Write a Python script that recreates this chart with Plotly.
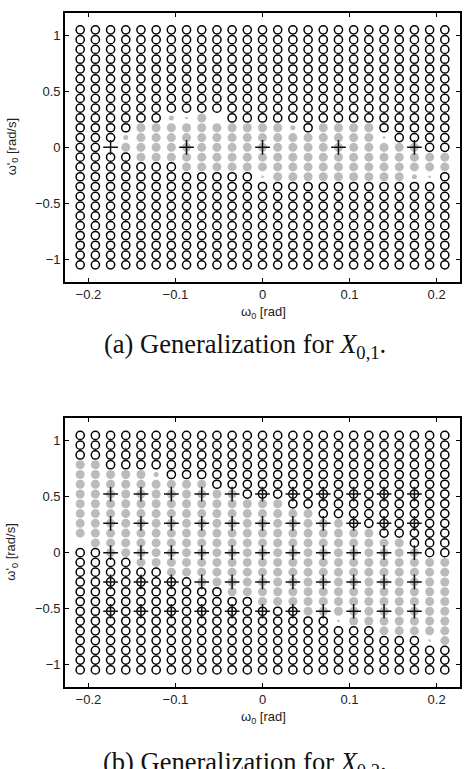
import numpy as np
import plotly.graph_objects as go

DEG = np.pi / 180.0

# ---------------- data ----------------
# grid of initial conditions: angle in degrees (-12..12), rate in steps of 5 deg/s (-12..12)
grid_cols = list(range(-12, 13))
grid_rows = list(range(12, -13, -1))
rate_step_deg = 5

# (a) X_{0,1}: per column, highest and lowest grid row that generalised (grey)
a_top = [None, None, None, 1, 2, 2, 3, 3, 3, 2, 2, 2, 2, 2, 2, 1, 2, 2, 2, 2, 1, 0, 0, -1, -1]
a_bot = [None, None, None, 0, -1, -1, -1, -2, -2, -2, -2, -2, -3, -3, -3, -3, -3, -3, -3, -3, -3, -3, -3, -3, -2]
a_small = [(-9, 1), (-6, 3), (2, 2), (10, -3)]
a_tiny = [(-5, 3), (0, -3), (8, 1), (11, -3)]
a_blank = [(-10, 0), (-3, 3)]
a_train_cols = [-10, -5, 0, 5, 10]
a_train_rows = [0]

# (b) X_{0,2}
b_top = [9, 9, 8, 8, 8, 8, 7, 7, 7, 6, 6, 5, 5, 5, 4, 4, 3, 3, 2, 2, 1, 1, 0, -1, -1]
b_bot = [2, 1, 0, 0, -1, -1, -2, -2, -3, -3, -4, -4, -5, -5, -5, -6, -6, -7, -7, -7, -8, -8, -8, -9, -9]
b_small = [(-7, 8)]
b_tiny = [(5, -7), (11, -9)]
b_blank = [(-12, 1)]
b_train_cols = [-10, -8, -6, -4, -2, 0, 2, 4, 6, 8, 10]
b_train_rows = [6, 3, 0, -3, -6]

x_ticks = [-0.2, -0.1, 0, 0.1, 0.2]
x_ticktext = ["\u22120.2", "\u22120.1", "0", "0.1", "0.2"]
y_ticks = [-1, -0.5, 0, 0.5, 1]
y_ticktext = ["\u22121", "\u22120.5", "0", "0.5", "1"]

captions = ["(a) Generalization for <i>X</i><sub>0,1</sub>.",
            "(b) Generalization for <i>X</i><sub>0,2</sub>."]

# ---------------- figure ----------------
W, H = 466, 769
GREY = "rgb(158,158,158)"

fig = go.Figure()


def build(top, bot, small, tiny, blank, tcols, trows, xa, ya):
    cx, cy, gx, gy, gs = [], [], [], [], []
    small_s, tiny_s, blank_s = set(small), set(tiny), set(blank)
    for i, c in enumerate(grid_cols):
        for r in grid_rows:
            if (c, r) in blank_s:
                continue
            x = c * DEG
            y = r * rate_step_deg * DEG
            if top[i] is not None and bot[i] <= r <= top[i]:
                gx.append(x)
                gy.append(y)
                if (c, r) in small_s:
                    gs.append(5)
                elif (c, r) in tiny_s:
                    gs.append(2.5)
                else:
                    gs.append(9)
            else:
                cx.append(x)
                cy.append(y)
    fig.add_trace(go.Scatter(x=cx, y=cy, mode="markers", xaxis=xa, yaxis=ya,
                             marker=dict(symbol="circle-open", size=8.2, color="black",
                                         line=dict(width=1.5, color="black")),
                             showlegend=False, hoverinfo="skip"))
    fig.add_trace(go.Scatter(x=gx, y=gy, mode="markers", xaxis=xa, yaxis=ya,
                             marker=dict(symbol="circle", size=gs, color=GREY,
                                         line=dict(width=0)),
                             showlegend=False, hoverinfo="skip"))
    tx = [c * DEG for c in tcols for r in trows]
    ty = [r * rate_step_deg * DEG for c in tcols for r in trows]
    fig.add_trace(go.Scatter(x=tx, y=ty, mode="markers", xaxis=xa, yaxis=ya,
                             marker=dict(symbol="cross-thin", size=10.5,
                                         line=dict(width=1.5, color="#111")),
                             showlegend=False, hoverinfo="skip"))


build(a_top, a_bot, a_small, a_tiny, a_blank, a_train_cols, a_train_rows, "x", "y")
build(b_top, b_bot, b_small, b_tiny, b_blank, b_train_cols, b_train_rows, "x2", "y2")

x_dom = [65 / W, 460 / W]
a_px = (12.7, 282.0)
b_px = (418.3, 687.0)


def ydom(p):
    return [1 - p[1] / H, 1 - p[0] / H]


xr = [-13 * DEG, 13 * DEG]
yr = [-1.2, 1.2]
tickfont = dict(family="Liberation Sans, Arial, sans-serif", size=13, color="#222")
axcommon = dict(showline=True, linecolor="black", linewidth=1.6, mirror="ticks",
                ticks="inside", ticklen=4, tickwidth=1, tickcolor="black",
                showgrid=False, zeroline=False, tickfont=tickfont, fixedrange=True)

fig.update_layout(
    width=W, height=H, margin=dict(l=0, r=0, t=0, b=0),
    paper_bgcolor="white", plot_bgcolor="white",
    xaxis=dict(domain=x_dom, range=xr, anchor="y", tickvals=x_ticks, ticktext=x_ticktext, **axcommon),
    yaxis=dict(domain=ydom(a_px), range=yr, anchor="x", tickvals=y_ticks, ticktext=y_ticktext, **axcommon),
    xaxis2=dict(domain=x_dom, range=xr, anchor="y2", tickvals=x_ticks, ticktext=x_ticktext, **axcommon),
    yaxis2=dict(domain=ydom(b_px), range=yr, anchor="x2", tickvals=y_ticks, ticktext=y_ticktext, **axcommon),
)

labfont = dict(family="Liberation Sans, Arial, sans-serif", size=13, color="#222")
capfont = dict(family="Liberation Serif, Times New Roman, serif", size=26.5, color="#111")
ann = []
for k, ((top_px, bot_px), cap_y) in enumerate(zip([a_px, b_px], [346, 764])):
    ann.append(dict(text="\u03c9<sub>0</sub> [rad]", x=263 / W, y=1 - (bot_px + 30) / H,
                    xref="paper", yref="paper", showarrow=False, font=labfont,
                    xanchor="center", yanchor="middle"))
    ann.append(dict(text="\u03c9'<sub>0</sub> [rad/s]", x=12 / W, y=1 - ((top_px + bot_px) / 2) / H,
                    xref="paper", yref="paper", showarrow=False, font=labfont, textangle=-90,
                    xanchor="center", yanchor="middle"))
    ann.append(dict(text=captions[k], x=245 / W, y=1 - cap_y / H,
                    xref="paper", yref="paper", showarrow=False, font=capfont,
                    xanchor="center", yanchor="middle"))
fig.update_layout(annotations=ann)

fig.write_html("out.html")
